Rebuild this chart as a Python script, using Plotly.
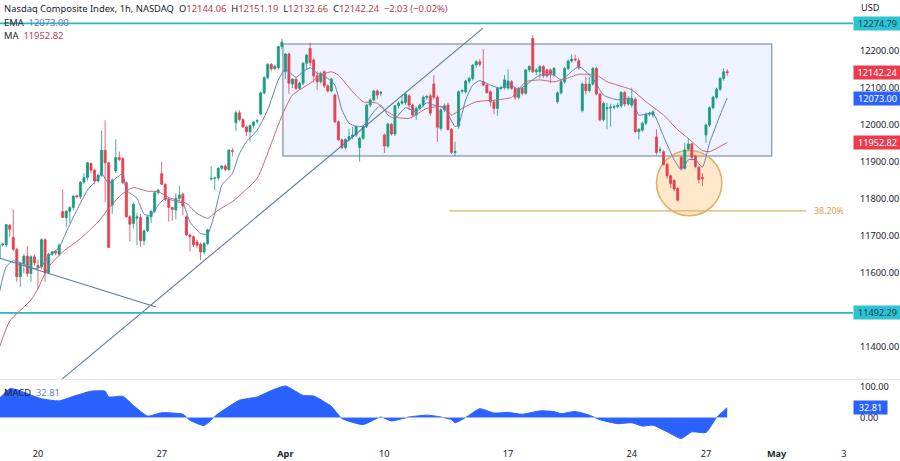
import plotly.graph_objects as go

# hourly candles
opens = [
    11639, 11676, 11677, 11729, 11696, 11664, 11590, 11626, 11646, 11599,
    11644, 11620, 11617, 11690, 11601, 11651, 11658, 11651, 11766, 11750,
    11767, 11777, 11809, 11806, 11846, 11858, 11896, 11878, 11849, 11864,
    11932, 11898, 11783, 11876, 11912, 11909, 11844, 11752, 11734, 11748,
    11750, 11687, 11714, 11752, 11767, 11817, 11869, 11840, 11799, 11777,
    11770, 11802, 11813, 11752, 11703, 11698, 11684, 11678, 11657, 11680,
    11854, 11856, 11857, 11883, 11889, 11880, 11931, 12006, 12033, 12015,
    11995, 11982, 11999, 12010, 12030, 12087, 12128, 12164, 12152, 12155,
    12212, 12144, 12192, 12111, 12124, 12099, 12113, 12167, 12207, 12176,
    12133, 12117, 12144, 12106, 12092, 12081, 12009, 11960, 11939, 11961,
    11969, 11973, 11939, 11964, 11997, 12054, 12068, 12092, 12086, 11973,
    11943, 12002, 11976, 12052, 12059, 12061, 12079, 12054, 12027, 12045,
    12054, 12075, 12079, 12111, 12075, 11991, 12041, 12054, 11988, 11926,
    11997, 12091, 12090, 12119, 12126, 12162, 12171, 12117, 12108, 12090,
    12063, 12045, 12099, 12101, 12100, 12117, 12099, 12075, 12099, 12086,
    12149, 12234, 12144, 12144, 12158, 12149, 12149, 12135, 12063, 12087,
    12117, 12153, 12173, 12178, 12174, 12039, 12111, 12093, 12111, 12153,
    12084, 12014, 12044, 12046, 12048, 12050, 12052, 12088, 12057, 12054,
    12070, 11982, 11986, 12005, 12029, 12027, 11968, 11931, 11928, 11894,
    11863, 11850, 11829, 11913, 11883, 11935, 11949, 11916, 11886, 11858,
    11973, 12000, 12047, 12075, 12097, 12126, 12144.06,
]
highs = [
    11680, 11682, 11733, 11733, 11772, 11668, 11630, 11650, 11673, 11648,
    11650, 11636, 11694, 11694, 11655, 11660, 11662, 11680, 11826, 11770,
    11780, 11810, 11812, 11848, 11870, 11900, 11899, 11882, 11868, 11985,
    12013, 11900, 11856, 11961, 11928, 11914, 11848, 11756, 11790, 11761,
    11760, 11718, 11756, 11770, 11820, 11828, 11901, 11843, 11803, 11780,
    11815, 11835, 11817, 11756, 11706, 11702, 11690, 11682, 11684, 11720,
    11889, 11860, 11886, 11892, 11893, 11935, 11938, 12040, 12040, 12018,
    11998, 12002, 12012, 12016, 12090, 12132, 12168, 12168, 12162, 12214,
    12233, 12195, 12196, 12127, 12128, 12117, 12170, 12192, 12223, 12180,
    12145, 12144, 12148, 12110, 12128, 12085, 12012, 11963, 11964, 11990,
    11995, 12000, 11968, 12000, 12058, 12072, 12096, 12096, 12092, 11977,
    12007, 12006, 12055, 12064, 12082, 12087, 12083, 12058, 12050, 12058,
    12080, 12082, 12085, 12135, 12080, 12045, 12058, 12060, 11992, 11955,
    12094, 12098, 12122, 12130, 12165, 12176, 12178, 12205, 12112, 12094,
    12067, 12103, 12106, 12135, 12150, 12121, 12102, 12103, 12103, 12152,
    12162, 12243, 12154, 12162, 12162, 12153, 12153, 12157, 12091, 12121,
    12157, 12177, 12191, 12190, 12180, 12115, 12131, 12130, 12157, 12158,
    12088, 12063, 12060, 12058, 12056, 12060, 12092, 12092, 12078, 12101,
    12075, 11992, 12009, 12033, 12036, 12040, 11988, 11942, 11932, 11898,
    11866, 11854, 11832, 11917, 11952, 11964, 11953, 11920, 11890, 11870,
    12004, 12051, 12079, 12101, 12130, 12153, 12151.19,
]
lows = [
    11630, 11672, 11670, 11698, 11660, 11576, 11563, 11600, 11590, 11576,
    11620, 11556, 11610, 11576, 11598, 11645, 11648, 11645, 11750, 11725,
    11735, 11770, 11802, 11800, 11840, 11850, 11870, 11840, 11845, 11860,
    11792, 11669, 11760, 11870, 11902, 11840, 11750, 11685, 11720, 11676,
    11671, 11675, 11710, 11735, 11762, 11812, 11838, 11795, 11739, 11742,
    11745, 11795, 11756, 11700, 11658, 11670, 11668, 11635, 11650, 11675,
    11850, 11824, 11850, 11878, 11875, 11875, 11915, 11984, 12010, 11992,
    11970, 11955, 11990, 12004, 12026, 12082, 12124, 12145, 12148, 12150,
    12206, 12125, 12085, 12100, 12095, 12095, 12108, 12150, 12160, 12115,
    12095, 12112, 12100, 12088, 12088, 12005, 11956, 11935, 11934, 11955,
    11962, 11968, 11901, 11960, 11992, 12048, 12062, 12070, 12078, 11924,
    11938, 11972, 11970, 12045, 12055, 12056, 12040, 12020, 12014, 12040,
    12048, 12068, 12025, 12070, 11955, 11985, 12035, 11985, 11922, 11916,
    11990, 12085, 12085, 12112, 12120, 12155, 12158, 12105, 12084, 12050,
    12029, 12025, 12094, 12096, 12095, 12095, 12068, 12070, 12080, 12082,
    12143, 12140, 12135, 12126, 12128, 12128, 12113, 12130, 12058, 12082,
    12112, 12148, 12168, 12172, 12150, 12034, 12082, 12088, 12106, 12080,
    12010, 12010, 11988, 11996, 12042, 12045, 12047, 12050, 12052, 12048,
    11978, 11961, 11982, 12000, 12024, 12020, 11920, 11924, 11890, 11855,
    11830, 11820, 11793, 11879, 11878, 11930, 11905, 11884, 11842, 11835,
    11952, 11995, 12042, 12070, 12092, 12120, 12132.66,
]
closes = [
    11676, 11678, 11731, 11718, 11664, 11590, 11626, 11646, 11599, 11644,
    11628, 11614, 11690, 11601, 11651, 11657, 11654, 11675, 11750, 11767,
    11777, 11808, 11806, 11846, 11858, 11898, 11878, 11849, 11864, 11932,
    11898, 11669, 11851, 11912, 11907, 11844, 11752, 11732, 11786, 11752,
    11687, 11714, 11752, 11767, 11817, 11824, 11840, 11799, 11777, 11772,
    11802, 11811, 11781, 11703, 11698, 11677, 11675, 11657, 11680, 11716,
    11856, 11857, 11883, 11889, 11880, 11932, 11929, 12033, 12015, 11995,
    11982, 11999, 12008, 12012, 12087, 12128, 12164, 12152, 12158, 12212,
    12224, 12192, 12113, 12124, 12099, 12113, 12167, 12189, 12169, 12133,
    12117, 12140, 12106, 12092, 12124, 12009, 11960, 11939, 11961, 11969,
    11973, 11996, 11964, 11997, 12054, 12068, 12092, 12081, 12088, 11943,
    12003, 11976, 12052, 12059, 12063, 12084, 12054, 12027, 12045, 12054,
    12075, 12077, 12032, 12075, 11994, 12041, 12052, 11988, 11926, 11928,
    12090, 12093, 12119, 12126, 12162, 12171, 12164, 12108, 12088, 12063,
    12045, 12099, 12101, 12122, 12119, 12099, 12075, 12099, 12086, 12149,
    12158, 12144, 12149, 12158, 12133, 12133, 12138, 12153, 12087, 12117,
    12153, 12173, 12178, 12176, 12155, 12111, 12093, 12111, 12153, 12084,
    12014, 12059, 12047, 12048, 12050, 12053, 12088, 12057, 12072, 12072,
    11982, 11988, 12005, 12029, 12032, 12036, 11926, 11933, 11894, 11863,
    11842, 11827, 11797, 11883, 11933, 11949, 11913, 11888, 11853, 11855,
    12000, 12047, 12075, 12097, 12126, 12144, 12142.24,
]
candle_index = list(range(len(closes)))

ema_index = [0, 2, 4, 6, 10, 12, 14, 17, 19, 22, 25, 28, 29, 31, 33, 35, 36, 39, 41, 43, 45, 47, 50, 52,
             54, 57, 59, 61, 63, 66, 68, 70, 73, 76, 79, 81, 82, 84, 86, 88, 90, 93, 95, 97, 99, 101,
             103, 106, 108, 110, 112, 115, 118, 121, 123, 126, 129, 130, 132, 134, 136, 139, 142, 144,
             147, 149, 153, 157, 159, 164, 168, 171, 175, 179, 181, 185, 188, 191, 193, 195, 197, 199,
             201, 204, 206]
ema_values = [11545, 11617, 11633, 11628, 11612, 11618, 11646, 11669, 11711, 11770, 11824, 11856, 11869,
              11842, 11856, 11869, 11824, 11802, 11759, 11756, 11783, 11802, 11793, 11788, 11738, 11707,
              11705, 11761, 11837, 11869, 11923, 11955, 11986, 12041, 12122, 12153, 12144, 12129, 12144,
              12155, 12140, 12126, 12108, 12041, 12005, 11996, 11997, 12036, 12054, 12027, 12018, 12047,
              12036, 12060, 12054, 12045, 11996, 12000, 12068, 12108, 12120, 12108, 12099, 12113, 12095,
              12108, 12135, 12135, 12122, 12158, 12126, 12081, 12068, 12072, 12027, 12032, 11969, 11906,
              11879, 11906, 11906, 11886, 11951, 12027, 12073]

ma_index = [0, 3, 9, 11, 14, 18, 23, 28, 31, 35, 38, 42, 45, 48, 53, 56, 59, 62, 66, 73, 77, 80, 83, 88,
            91, 94, 96, 100, 103, 107, 109, 113, 116, 121, 126, 128, 131, 135, 141, 145, 149, 153, 157,
            160, 164, 169, 172, 179, 183, 188, 192, 195, 199, 201, 206]
ma_values = [11397, 11470, 11527, 11558, 11617, 11657, 11693, 11738, 11775, 11815, 11831, 11821, 11820,
             11804, 11788, 11761, 11748, 11770, 11793, 11856, 11950, 12025, 12081, 12113, 12135, 12144,
             12135, 12090, 12063, 12059, 12041, 12020, 12018, 12045, 12050, 12027, 12045, 12063, 12068,
             12075, 12117, 12122, 12117, 12124, 12137, 12135, 12117, 12095, 12063, 12027, 11987, 11964,
             11931, 11928, 11952.82]

macd_index = [0, 3, 5, 10, 12, 17, 21, 26, 30, 31, 35, 38, 42, 46, 52, 54, 58, 62, 68, 73, 77, 81, 86, 89,
              94, 97, 103, 108, 111, 116, 121, 124, 128, 129, 132, 136, 140, 144, 148, 153, 157, 159, 163,
              167, 170, 175, 179, 182, 185, 189, 193, 196, 200, 203, 206]
macd_values = [62, 95, 92, 70, 62, 55, 70, 87, 87, 68, 70, 40, 5, 16, 11, -9, -26, 13, 57, 68, 89, 104, 73,
               71, 37, -3, -23, 2, -11, 2, 8, 4, -7, -17, 0, 29, 15, 17, 11, 22, 20, 13, 20, 8, -7, -20,
               -17, -28, -25, -47, -69, -47, -49, 0, 32.81]

price_ticks = [11400, 11600, 11700, 11800, 11900, 12000, 12100, 12200]
macd_ticks = [0, 100]
date_ticks = [11, 46, 81, 109, 144, 179, 200, 220, 239]
date_labels = ["20", "27", "<b>Apr</b>", "10", "17", "24", "27", "<b>May</b>", "3"]

resistance = 12274.79
support = 11492.29
fib_level = 11768
last_close = 12142.24
last_ema = 12073.00
last_ma = 11952.82
last_macd = 32.81

GREEN = "#1b9a80"
RED = "#e5404f"
TEAL = "#2bb7c0"
ORANGE = "#e0b060"
EMA_BLUE = "#5f82bd"
MA_RED = "#cb6573"
MACD_BLUE = "#2962ff"
TEXT = "#20242e"
FONT = "Noto Sans"

fig = go.Figure()

fig.add_trace(go.Candlestick(
    x=candle_index, open=opens, high=highs, low=lows, close=closes,
    increasing=dict(line=dict(color=GREEN, width=0.8), fillcolor=GREEN),
    decreasing=dict(line=dict(color=RED, width=0.8), fillcolor=RED),
    whiskerwidth=0,
))
fig.add_trace(go.Scatter(x=ema_index, y=ema_values, mode="lines", line=dict(color=EMA_BLUE, width=1, shape="spline", smoothing=0.5)))
fig.add_trace(go.Scatter(x=ma_index, y=ma_values, mode="lines", line=dict(color=MA_RED, width=1, shape="spline", smoothing=0.5)))

# hand drawn trend lines
fig.add_trace(go.Scatter(x=[17.8, 136.9], y=[11313, 12262], mode="lines", line=dict(color="#5b76a6", width=1.1)))
fig.add_trace(go.Scatter(x=[0.25, 44.4], y=[11640, 11508], mode="lines", line=dict(color="#5b76a6", width=1.1)))

fig.add_trace(go.Scatter(
    x=macd_index, y=macd_values, mode="lines", fill="tozeroy", fillcolor=MACD_BLUE,
    line=dict(color=MACD_BLUE, width=1, shape="spline", smoothing=0.5), xaxis="x", yaxis="y2",
))
fig.add_trace(go.Scatter(
    x=[macd_index[0], macd_index[-1]], y=[0, 0], mode="lines",
    line=dict(color="#9db8ff", width=1), xaxis="x", yaxis="y2",
))

# rectangle, circle and levels are drawn under the candles
fig.add_shape(type="rect", x0=80.3, x1=218.6, y0=11916, y1=12219, layer="below",
              line=dict(color="#93a5bf", width=1.5), fillcolor="rgba(41,98,255,0.08)")
fig.add_shape(type="circle", x0=186, x1=204.5, y0=11755, y1=11931, layer="below",
              line=dict(color=ORANGE, width=1.5), fillcolor="rgba(255,170,70,0.28)")
fig.add_shape(type="line", x0=127.3, x1=228.3, y0=fib_level, y1=fib_level, layer="below",
              line=dict(color=ORANGE, width=1.3))
for level in [resistance, support]:
    fig.add_shape(type="line", xref="x domain", x0=0, x1=1, y0=level, y1=level,
                  line=dict(color=TEAL, width=1.6))
fig.add_shape(type="line", xref="paper", yref="paper", x0=0, x1=1.06, y0=0.1455, y1=0.1455,
              line=dict(color="#e0e3eb", width=1))


def badge(value, text, bg, color="#ffffff", yref="y", width=47):
    fig.add_annotation(x=1, xref="paper", xanchor="left", y=value, yref=yref, text=text,
                       showarrow=False, bgcolor=bg, width=width, height=13, borderpad=0,
                       align="center", font=dict(family=FONT, size=9.2, color=color))


badge(resistance, "12274.79", "#2dc3d3", color="#20424a")
badge(last_close, "12142.24", "#ef3a4c")
badge(last_ema, "12073.00", MACD_BLUE)
badge(last_ma, "11952.82", "#ef3a4c")
badge(support, "11492.29", "#2dc3d3", color="#20424a")
badge(last_macd, "32.81", MACD_BLUE, yref="y2", width=33)


def label(x, y, text, color=TEXT, size=9.4):
    fig.add_annotation(x=x, y=y, xref="x domain", yref="paper", xanchor="left", yanchor="middle",
                       text=text, showarrow=False, font=dict(family=FONT, size=size, color=color))


def ohlc(letter, value):
    return f'<span style="color:{TEXT}">{letter}</span>{value}'


label(0.002, 0.98, "Nasdaq Composite Index, 1h, NASDAQ")
label(0.207, 0.98, "  ".join([ohlc("O", "12144.06"), ohlc("H", "12151.19"), ohlc("L", "12132.66"),
                              ohlc("C", "12142.24"), "\u22122.03 (\u22120.02%)"]), color="#b2434f")
label(0.002, 0.95, f'EMA  <span style="color:{EMA_BLUE}">12073.00</span>')
label(0.002, 0.919, f'MA  <span style="color:#b2434f">11952.82</span>')
label(0.002, 0.117, f'MACD  <span style="color:{EMA_BLUE}">32.81</span>')
fig.add_annotation(x=230, xref="x", y=fib_level, yref="y", xanchor="left", text="38.20%", showarrow=False,
                   font=dict(family=FONT, size=8.8, color="#d59f45"))
fig.add_annotation(x=1, xref="paper", xanchor="left", xshift=6, y=0.984, yref="paper", yanchor="middle",
                   text="USD", showarrow=False, font=dict(family=FONT, size=9.2, color=TEXT))

fig.update_layout(
    width=900, height=461,
    margin=dict(l=0, r=47, t=0, b=17),
    paper_bgcolor="#ffffff", plot_bgcolor="rgba(0,0,0,0)",
    showlegend=False, hovermode=False, boxgap=0.18,
    font=dict(family=FONT, size=9.2, color=TEXT),
    xaxis=dict(
        domain=[0, 1], anchor="y2", range=[0.25, 241.6], rangeslider=dict(visible=False),
        tickmode="array", tickvals=date_ticks, ticktext=date_labels, ticks="", ticklabelstandoff=3,
        showgrid=False, zeroline=False, showline=False,
    ),
    yaxis=dict(
        domain=[0.146, 1], anchor="x", side="right", range=[11313, 12338],
        tickmode="array", tickvals=price_ticks, tickformat=".2f", ticks="", ticklabelstandoff=6,
        showgrid=False, zeroline=False, showline=False,
    ),
    yaxis2=dict(
        domain=[0, 0.144], anchor="x", side="right", range=[-87, 123.5],
        tickmode="array", tickvals=macd_ticks, tickformat=".2f", ticks="", ticklabelstandoff=6,
        showgrid=False, zeroline=False, showline=False,
    ),
)

# the browser's default page margin would push the chart off the window
fig.write_html("out.html", config={"displayModeBar": False},
               post_script="document.body.style.margin = '0';")
